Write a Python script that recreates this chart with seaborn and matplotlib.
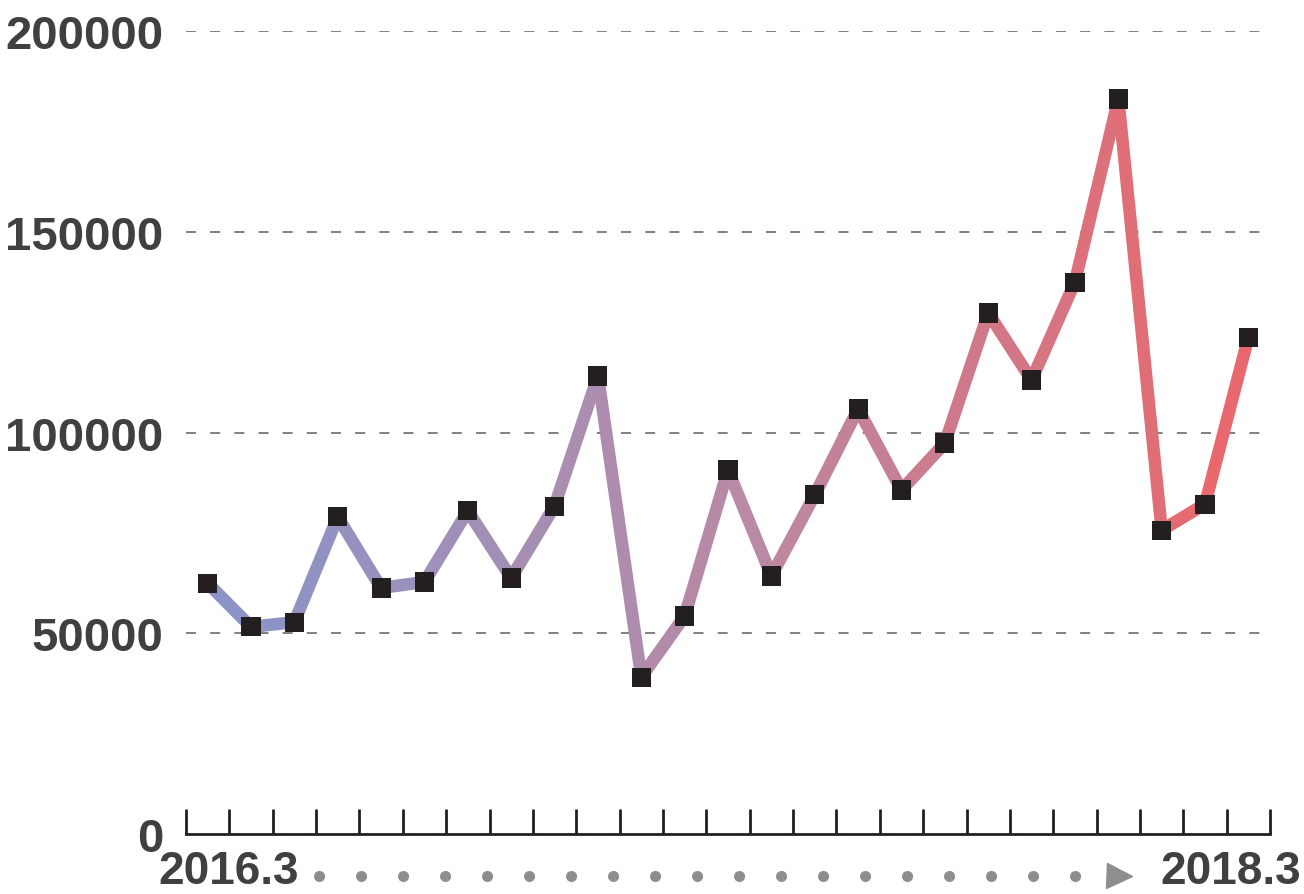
import numpy as np
import pandas as pd
import matplotlib.pyplot as plt
import seaborn as sns
from matplotlib.lines import Line2D

sns.set_style("white")
plt.rcParams['font.family'] = ['Liberation Sans', 'DejaVu Sans']

# monthly values, 2016.3 -> 2018.3
months = ['2016.3', '2016.4', '2016.5', '2016.6', '2016.7', '2016.8', '2016.9',
          '2016.10', '2016.11', '2016.12', '2017.1', '2017.2', '2017.3', '2017.4',
          '2017.5', '2017.6', '2017.7', '2017.8', '2017.9', '2017.10', '2017.11',
          '2017.12', '2018.1', '2018.2', '2018.3']
values = [62500, 51600, 52800, 79000, 61300, 62800, 80500, 63800, 81700, 114100,
          39100, 54300, 90700, 64300, 84500, 105900, 85700, 97400, 129800, 113100,
          137500, 183100, 75700, 82200, 123800]
yticks = [0, 50000, 100000, 150000, 200000]
start_label = '2016.3'
end_label = '2018.3'

df = pd.DataFrame({'idx': np.arange(len(months)), 'month': months, 'value': values})

# segments for gradient line
rows = []
for i in range(len(df) - 1):
    rows.append({'seg': i, 'idx': df.idx[i], 'value': df.value[i]})
    rows.append({'seg': i, 'idx': df.idx[i + 1], 'value': df.value[i + 1]})
segs = pd.DataFrame(rows)
pal = sns.blend_palette(['#8a94c8', '#b88aa6', '#e8686d'], n_colors=len(df) - 1)

fig = plt.figure(figsize=(13.04, 8.95), dpi=100)
ax = fig.add_axes([0.1426, 0.067, 0.8314, 0.897])

sns.lineplot(data=segs, x='idx', y='value', hue='seg', palette=pal, linewidth=9,
             legend=False, ax=ax, solid_capstyle='butt', estimator=None)
sns.scatterplot(data=df, x='idx', y='value', marker='s', color='#231f20', s=190,
                edgecolor='none', ax=ax, zorder=5, clip_on=False)

ax.set_xlim(-0.5, len(df) - 0.5)
ax.set_ylim(0, 200000)
ax.set_yticks(yticks)
ax.set_yticklabels([str(v) for v in yticks], fontsize=34, fontweight='bold', color='#404040')
ax.set_xticks(np.arange(-0.5, len(df), 1.0))
ax.set_xticklabels([])
ax.tick_params(axis='x', bottom=True, direction='in', length=18, width=2, color='#231f20')
ax.tick_params(axis='y', left=False, length=0, pad=16)

for v in yticks[1:]:
    ax.axhline(v, color='#6b6b6b', linewidth=1.2, linestyle=(0, (6, 8.5)), zorder=0)

for s in ['left', 'right', 'top']:
    ax.spines[s].set_visible(False)
ax.spines['bottom'].set_linewidth(2)
ax.spines['bottom'].set_color('#231f20')
ax.set_xlabel('')
ax.set_ylabel('')

# bottom labels with dotted arrow
fig.text(158 / 1304, 1 / 895, start_label, fontsize=33, fontweight='bold',
         color='#404040', ha='left', va='bottom')
fig.text(1301 / 1304, 1 / 895, end_label, fontsize=33, fontweight='bold',
         color='#404040', ha='right', va='bottom')
y_arrow = 1 - 877 / 895
fig.add_artist(Line2D([319 / 1304, 1100 / 1304], [y_arrow, y_arrow], color='#8e8e90',
                      linewidth=8, linestyle=(0, (0.01, 3.77)), dash_capstyle='round',
                      transform=fig.transFigure))
fig.add_artist(Line2D([1119 / 1304], [y_arrow], marker='>', markersize=18, color='#8e8e90',
                      linestyle='none', transform=fig.transFigure))

plt.savefig('out.png', dpi=100)
